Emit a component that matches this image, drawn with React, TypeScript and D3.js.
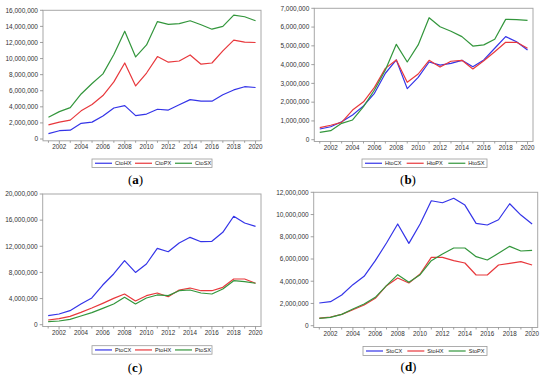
import React from "react";
import * as d3 from "d3";

const years = d3.range(2001, 2021);

// Panel (a) values in millions
const ctoHX = [0.66, 1.03, 1.1, 1.95, 2.1, 2.85, 3.85, 4.15, 2.9, 3.1, 3.7, 3.6, 4.25, 4.9, 4.7, 4.7, 5.5, 6.1, 6.5, 6.4];
const ctoPX = [1.75, 2.1, 2.35, 3.5, 4.3, 5.4, 7.1, 9.45, 6.6, 8.2, 10.25, 9.55, 9.7, 10.45, 9.3, 9.45, 10.95, 12.3, 12.05, 12.0];
const ctoSX = [2.7, 3.4, 3.9, 5.6, 6.9, 8.1, 10.5, 13.4, 10.2, 11.7, 14.6, 14.25, 14.35, 14.7, 14.2, 13.65, 14.0, 15.4, 15.2, 14.7];

// Panel (b)
const htoCX = [0.57, 0.69, 0.96, 1.32, 1.8, 2.47, 3.54, 4.25, 2.72, 3.32, 4.14, 3.97, 4.07, 4.23, 3.89, 4.25, 4.87, 5.49, 5.22, 4.78];
const htoPX = [0.64, 0.77, 0.92, 1.58, 2.02, 2.79, 3.8, 4.25, 3.06, 3.5, 4.23, 3.87, 4.18, 4.23, 3.77, 4.21, 4.69, 5.19, 5.19, 4.87];
const htoSX = [0.39, 0.48, 0.87, 1.05, 1.76, 2.65, 3.71, 5.08, 4.14, 5.05, 6.5, 6.02, 5.78, 5.49, 4.99, 5.05, 5.35, 6.41, 6.4, 6.36];

// Panel (c)
const ptoCX = [1.38, 1.64, 2.15, 3.17, 4.09, 6.07, 7.76, 9.8, 8.0, 9.29, 11.69, 11.17, 12.5, 13.37, 12.7, 12.76, 14.14, 16.59, 15.56, 15.05];
const ptoHX = [0.72, 0.92, 1.28, 1.89, 2.55, 3.27, 4.03, 4.7, 3.63, 4.44, 4.85, 4.28, 5.31, 5.61, 5.2, 5.2, 5.72, 6.99, 6.99, 6.34];
const ptoSX = [0.46, 0.57, 0.82, 1.33, 1.84, 2.5, 3.17, 4.2, 3.17, 4.09, 4.55, 4.45, 5.2, 5.31, 4.85, 4.7, 5.46, 6.73, 6.58, 6.34];

// Panel (d)
const stoCX = [2.04, 2.16, 2.76, 3.69, 4.44, 5.85, 7.44, 9.15, 7.41, 9.15, 11.24, 11.06, 11.46, 10.85, 9.2, 9.06, 9.53, 10.97, 9.95, 9.15];
const stoHX = [0.69, 0.78, 1.02, 1.44, 1.86, 2.46, 3.6, 4.29, 3.84, 4.65, 6.15, 6.15, 5.85, 5.64, 4.56, 4.56, 5.46, 5.61, 5.76, 5.46];
const stoPX = [0.66, 0.75, 1.02, 1.5, 1.95, 2.55, 3.6, 4.59, 3.9, 4.59, 5.85, 6.45, 6.99, 6.99, 6.21, 5.91, 6.51, 7.14, 6.72, 6.78];

const xTickLabels = [2002, 2004, 2006, 2008, 2010, 2012, 2014, 2016, 2018, 2020];

const BLUE = "#3434e8";
const RED = "#e8383c";
const GREEN = "#33963c";
const colors = [BLUE, RED, GREEN];

type Panel = {
  letter: string;
  names: string[];
  series: number[][];
  yMax: number;
  yStep: number;
  left: number;
  right: number;
  top: number;
  zero: number;
  legend: [number, number, number, number];
  caption: [number, number];
};

const panels: Panel[] = [
  { letter: "a", names: ["CtoHX", "CtoPX", "CtoSX"], series: [ctoHX, ctoPX, ctoSX], yMax: 16, yStep: 2,
    left: 43, right: 261, top: 10.3, zero: 139, legend: [92, 159, 120, 8.5], caption: [135.5, 184] },
  { letter: "b", names: ["HtoCX", "HtoPX", "HtoSX"], series: [htoCX, htoPX, htoSX], yMax: 7, yStep: 1,
    left: 314.3, right: 533, top: 8.3, zero: 139.7, legend: [362, 159, 125, 8.5], caption: [408, 183.7] },
  { letter: "c", names: ["PtoCX", "PtoHX", "PtoSX"], series: [ptoCX, ptoHX, ptoSX], yMax: 20, yStep: 4,
    left: 42.7, right: 261, top: 194, zero: 324.7, legend: [92, 345.7, 120, 8.5], caption: [135, 372] },
  { letter: "d", names: ["StoCX", "StoHX", "StoPX"], series: [stoCX, stoHX, stoPX], yMax: 12, yStep: 2,
    left: 313.7, right: 537.7, top: 192.3, zero: 325.7, legend: [363, 346.5, 124, 9], caption: [408.5, 371] },
];

const fmt = d3.format(",");
const FONT = "Liberation Sans, Arial, sans-serif";

function ChartPanel({ p }: { p: Panel }) {
  const x = d3.scaleLinear().domain([2000.5, 2020.5]).range([p.left, p.right]);
  const y = d3.scaleLinear().domain([0, p.yMax]).range([p.zero, p.top]);
  const bottom = p.zero + 1.8;
  const line = d3.line<number>().x((_, i) => x(years[i])).y((v) => y(v));
  const yTicks = d3.range(0, p.yMax + 0.001, p.yStep);
  const [lx, ly, lw, lh] = p.legend;
  const itemW = lw / 3;
  return (
    <g>
      <rect x={p.left} y={p.top} width={p.right - p.left} height={bottom - p.top} fill="#fff" stroke="#a8a8a8" strokeWidth={1} />
      {yTicks.map((t) => (
        <g key={t}>
          <line x1={p.left - 3} x2={p.left} y1={y(t)} y2={y(t)} stroke="#888" strokeWidth={0.8} />
          <text x={p.left - 5} y={y(t)} dy="0.35em" textAnchor="end" fontSize={6.5} fill="#333" fontFamily={FONT}>
            {fmt(t * 1e6)}
          </text>
        </g>
      ))}
      {years.map((yr) => (
        <line key={yr} x1={x(yr)} x2={x(yr)} y1={bottom} y2={bottom + (yr % 2 === 0 ? 3 : 2)} stroke="#888" strokeWidth={0.8} />
      ))}
      {xTickLabels.map((yr) => (
        <text key={yr} x={x(yr)} y={bottom + 8.5} textAnchor="middle" fontSize={6.3} fill="#333" fontFamily={FONT}>
          {yr}
        </text>
      ))}
      {p.series.map((s, i) => (
        <path key={i} d={line(s) || ""} fill="none" stroke={colors[i]} strokeWidth={1.2} strokeLinejoin="round" />
      ))}
      <rect x={lx} y={ly} width={lw} height={lh} fill="#fff" stroke="#999" strokeWidth={0.8} />
      {p.names.map((n, i) => (
        <g key={n}>
          <line x1={lx + i * itemW + 3} x2={lx + i * itemW + 20} y1={ly + lh / 2} y2={ly + lh / 2} stroke={colors[i]} strokeWidth={1.2} />
          <text x={lx + i * itemW + 23} y={ly + lh / 2} dy="0.35em" fontSize={5.6} fill="#222" fontFamily={FONT}>
            {n}
          </text>
        </g>
      ))}
      <text x={p.caption[0]} y={p.caption[1]} textAnchor="middle" fontSize={13} fontFamily="Liberation Serif, Times New Roman, serif" fill="#000">
        (<tspan fontWeight="bold">{p.letter}</tspan>)
      </text>
    </g>
  );
}

export default function App() {
  return (
    <svg width={550} height={378} style={{ position: "absolute", left: 0, top: 0, background: "#fff" }}>
      <rect width={550} height={378} fill="#fff" />
      {panels.map((p) => (
        <ChartPanel key={p.letter} p={p} />
      ))}
    </svg>
  );
}
